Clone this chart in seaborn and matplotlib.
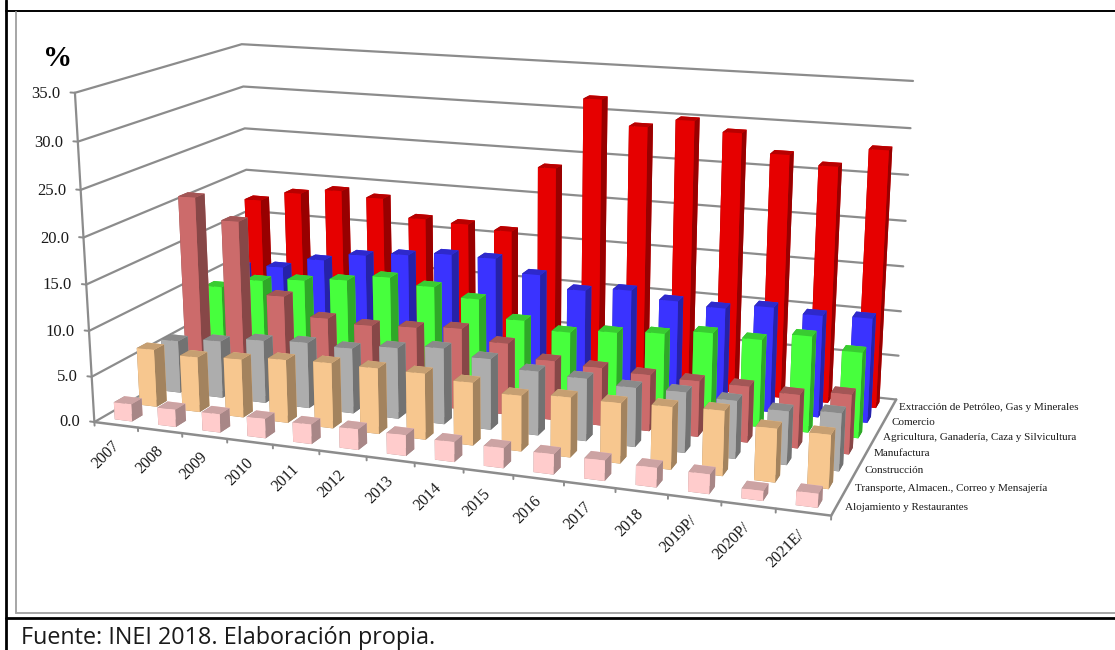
import numpy as np
import matplotlib
matplotlib.use("Agg")
import matplotlib.pyplot as plt
from matplotlib.lines import Line2D
import seaborn as sns

# ─── Data ─────────────────────────────────────────────────────────────────────
years = ["2007", "2008", "2009", "2010", "2011", "2012", "2013", "2014", "2015",
         "2016", "2017", "2018", "2019P/", "2020P/", "2021E/"]
series_names = ["Alojamiento y Restaurantes", "Transporte, Almacen., Correo y Mensajería",
                "Construcción", "Manufactura",
                "Agricultura, Ganadería, Caza y Silvicultura", "Comercio",
                "Extracción de Petróleo, Gas y Minerales"]
y_ticks = [0, 5, 10, 15, 20, 25, 30, 35]

alojamiento = [1.9, 1.9, 2.0, 2.1, 2.1, 2.2, 2.2, 2.1, 2.1, 2.1, 2.1, 2.0, 2.0, 1.0, 1.4]
transporte = [6.4, 6.1, 6.4, 6.9, 7.1, 7.1, 7.1, 6.7, 5.9, 6.3, 6.3, 6.5, 6.7, 5.5, 5.5]
construccion = [5.9, 6.4, 7.0, 7.3, 7.2, 7.8, 8.3, 7.7, 6.9, 6.7, 6.3, 6.4, 6.1, 5.6, 6.0]
manufactura = [20.9, 18.6, 10.6, 8.6, 8.3, 8.6, 9.0, 7.9, 6.5, 6.3, 6.1, 6.0, 6.0, 5.7, 6.3]
agricultura = [9.4, 10.6, 11.1, 11.6, 12.4, 11.8, 10.9, 9.0, 8.2, 8.7, 9.1, 9.7, 9.5, 10.4, 9.2]
comercio = [10.5, 10.9, 12.2, 13.2, 13.7, 14.2, 14.2, 12.8, 11.5, 12.0, 11.3, 11.0, 11.6, 11.2, 11.4]
extraccion = [17.3, 18.5, 19.2, 18.7, 16.7, 16.5, 16.1, 23.7, 31.7, 29.0, 30.0, 29.0, 27.0, 26.1, 28.2]

series_values = [alojamiento, transporte, construccion, manufactura,
                 agricultura, comercio, extraccion]
palette = sns.color_palette(["#FFCCCC", "#F7C78F", "#ADADAD", "#CC6B6B",
                             "#47FF3D", "#3A33FF", "#E60000"])

BAR_DX, BAR_DY = 0.40, 0.42
GRID = "#8C8C8C"
TEXT = "#1a1a1a"

# The Excel camera: floor and wall corners (x, y, z) and where they land on the image
camera_world = [(0, 0, 0), (0, 0, 20), (0, 0, 35), (15, 0, 0), (0, 7, 0), (0, 7, 20), (0, 7, 35),
                (15, 7, 0), (15, 7, 20), (15, 7, 35)]
camera_image = [(94, 422), (83, 237), (76, 93), (831, 516), (253, 331), (246, 170), (241, 44),
                (896, 399), (906, 221), (913, 81)]

sns.set_theme(style="white")
plt.rcParams["font.family"] = ["Liberation Serif", "DejaVu Serif"]

fig = plt.figure(figsize=(11.15, 6.5), dpi=100)
ax = fig.add_axes([0, 0, 1, 1], projection="3d")
ax.apply_aspect = lambda position=None: None  # keep the axes on the whole figure
ax.set_axis_off()
ax.computed_zorder = False


def fit_camera():
    """Solve the 3x4 projection from the corner pairs (direct linear transform)."""
    img = np.array(camera_image, dtype=float)
    img[:, 1] = 650 - img[:, 1]
    img = ax.transData.inverted().transform(img)
    rows = []
    for (x, y, z), (u, v) in zip(camera_world, img):
        rows.append([x, y, z, 1, 0, 0, 0, 0, -u * x, -u * y, -u * z, -u])
        rows.append([0, 0, 0, 0, x, y, z, 1, -v * x, -v * y, -v * z, -v])
    P = np.linalg.svd(np.array(rows))[2][-1].reshape(3, 4)
    return P / (P[2] @ [7.5, 3.5, 15, 1])


P = fit_camera()
# third row gives depth -0.5 / w: negative, and larger for whatever is farther away
M = np.vstack([P[0], P[1], [0, 0, 0, -0.5], P[2]])
ax.get_proj = lambda: M


def to_screen(x, y, z):
    u, v, w = P @ [x, y, z, 1]
    return u / w, v / w


def axis_text(x, y, z, s, **kw):
    sx, sy = to_screen(x, y, z)
    ax.text2D(sx, sy, s, transform=ax.transData, color=TEXT, zorder=1000, **kw)


# ─── Walls and axes ───────────────────────────────────────────────────────────
n_x, n_y = len(years), len(series_names)
for tick in y_ticks:
    ax.plot([0, 0, n_x], [0, n_y, n_y], [tick, tick, tick], color=GRID, lw=1.6, zorder=1)
    ax.plot([-0.1, 0], [0, 0], [tick, tick], color=GRID, lw=1.4, zorder=1)
    axis_text(-0.33, 0, tick - 0.25, f"{tick:.1f}", ha="right", va="center", fontsize=12)
ax.plot([0, 0], [0, 0], [0, y_ticks[-1]], color=GRID, lw=1.6, zorder=1)
ax.plot([0, n_x, n_x], [0, 0, n_y], [0, 0, 0], color=GRID, lw=1.8, zorder=1)

for i in range(n_x + 1):
    ax.plot([i, i], [0, 0], [0, -0.4], color=GRID, lw=1.4, zorder=1)
for i, label in enumerate(years):
    axis_text(i + 0.5, 0, -2.05, label, rotation=45, rotation_mode="anchor",
              ha="right", va="center", fontsize=11.5)
for s, label in enumerate(series_names):
    axis_text(n_x + 0.15, s + 0.5, 0, label, ha="left", va="center", fontsize=8)

# ─── Bars, far row first and left to right inside a row ───────────────────────
order = 10
for s in range(n_y - 1, -1, -1):
    front = np.array(palette[s])
    faces = [front * 0.66, front * 0.8, front, front, front * 0.66, front * 0.66]
    for i, value in enumerate(series_values[s]):
        ax.bar3d(i + (1 - BAR_DX) / 2, s + (1 - BAR_DY) / 2, 0, BAR_DX, BAR_DY, value,
                 color=faces, shade=False, linewidth=0, zorder=order)
        order += 1

# ─── Frame, unit and source line ──────────────────────────────────────────────
W, H = 1115, 650


def rule(x0, y0, x1, y1, color, lw):
    fig.add_artist(Line2D([x0 / W, x1 / W], [1 - y0 / H, 1 - y1 / H], color=color, lw=lw))


rule(6, 0, 6, 650, "black", 2)
rule(6, 10.5, W, 10.5, "black", 1.4)
rule(6, 617.5, W, 617.5, "black", 2)
rule(15.5, 12, 15.5, 613, "#A6A6A6", 1.4)
rule(15.5, 613, W, 613, "#A6A6A6", 1.4)

fig.text(58 / W, 1 - 58 / H, "%", ha="center", va="center", fontsize=21,
         fontweight="bold", color="black")
fig.text(21 / W, 1 - 644 / H, "Fuente: INEI 2018. Elaboración propia.", ha="left",
         va="baseline", fontsize=16.8, family="Open Sans", color="#1a1a1a")

fig.savefig("out.png", dpi=100)
plt.close(fig)
